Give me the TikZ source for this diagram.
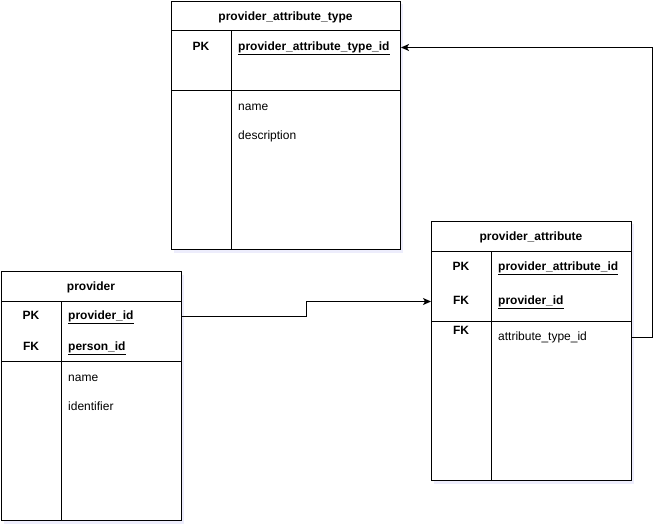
\documentclass[tikz,border=0pt]{standalone}
\usepackage{fontspec}
\setmainfont{Liberation Sans}
\usetikzlibrary{arrows.meta,shadows}
\begin{document}
\begin{tikzpicture}[x=1pt,y=-1pt,
  tbl/.style={draw=black, line width=1pt, fill=white, anchor=north west, inner sep=0pt,
    drop shadow={shadow xshift=2pt, shadow yshift=-3pt, opacity=0.35, fill=black!20!blue!20}},
  rule/.style={draw=black, line width=1pt},
  txt/.style={font=\fontsize{12}{14}\selectfont, inner sep=0pt, text height=9pt, text depth=3pt, yshift=-1.5pt},
  hdr/.style={txt, font=\fontsize{12}{14}\selectfont\bfseries},
  key/.style={txt, font=\fontsize{12}{14}\selectfont\bfseries},
  col/.style={txt, anchor=west},
  kcol/.style={txt, anchor=west, font=\fontsize{12}{14}\selectfont\bfseries},
  conn/.style={draw=black, line width=1pt, -{Stealth[length=8pt,width=7pt,inset=2pt]}}
]
\useasboundingbox (0,0) rectangle (670,532);

% provider_attribute_type
\node[tbl, minimum width=229pt, minimum height=248pt] (t1) at (171,1) {};
\draw[rule] (171,31) -- (400,31);
\draw[rule] (171,91) -- (400,91);
\draw[rule] (231,31) -- (231,249);
\node[hdr] (t1h) at (285.5,16) {provider\_attribute\_type};
\node[key] (t1k1) at (201,46) {PK};
\node[kcol] (t1r1) at (238,46) {\underline{provider\_attribute\_type\_id}};
\node[col] (t1r2) at (238,106) {name};
\node[col] (t1r3) at (238,135) {description};

% provider_attribute
\node[tbl, minimum width=200pt, minimum height=259pt] (t2) at (431,221) {};
\draw[rule] (431,251) -- (631,251);
\draw[rule] (431,321) -- (631,321);
\draw[rule] (491,251) -- (491,480);
\node[hdr] (t2h) at (531,236) {provider\_attribute};
\node[key] (t2k1) at (461,266) {PK};
\node[kcol] (t2r1) at (498,266) {\underline{provider\_attribute\_id}};
\node[key] (t2k2) at (461,300) {FK};
\node[kcol] (t2r2) at (498,300) {\underline{provider\_id}};
\node[key] (t2k3) at (461,330) {FK};
\node[col] (t2r3) at (498,336) {attribute\_type\_id};

% provider
\node[tbl, minimum width=180pt, minimum height=249pt] (t3) at (1,271) {};
\draw[rule] (1,301) -- (181,301);
\draw[rule] (1,361) -- (181,361);
\draw[rule] (61,301) -- (61,520);
\node[hdr] (t3h) at (91,286) {provider};
\node[key] (t3k1) at (31,315) {PK};
\node[kcol] (t3r1) at (68,315) {\underline{provider\_id}};
\node[key] (t3k2) at (31,346) {FK};
\node[kcol] (t3r2) at (68,346) {\underline{person\_id}};
\node[col] (t3r3) at (68,377) {name};
\node[col] (t3r4) at (68,406) {identifier};

% connectors
\draw[conn] (t3.east |- t3r1) -- ++(124,0) |- (t2.west |- t2r2);
\draw[conn] (t2.east |- t2r3) -- ++(20,0) |- (t1.east |- t1r1);
\end{tikzpicture}
\end{document}
